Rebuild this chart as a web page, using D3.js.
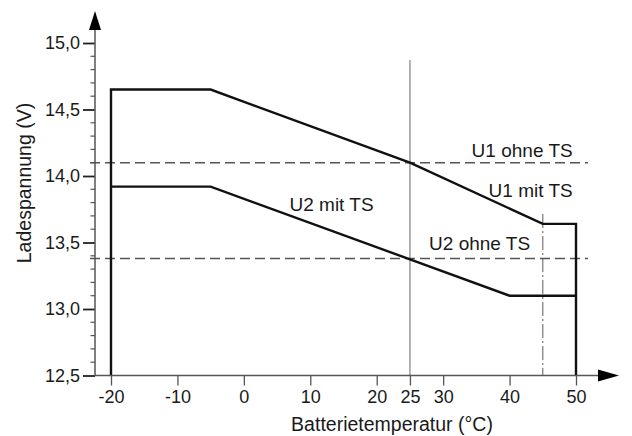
<!DOCTYPE html>
<html><head><meta charset="utf-8">
<script src="https://cdn.jsdelivr.net/npm/d3@7"></script>
<style>body{margin:0;background:#fff}svg{display:block}text{font-family:"Liberation Sans",Arial,sans-serif;fill:#1a1a1a}</style>
</head><body>
<svg id="c" width="632" height="436"></svg>
<script>
// ---- data ----
const xTicks = [-20, -10, 0, 10, 20, 25, 30, 40, 50];
const yMajorTicks = [12.5, 13.0, 13.5, 14.0, 14.5, 15.0];
const yMinorTicks = d3.range(126, 150).map(v => v / 10).filter(v => Math.round(v * 10) % 5 !== 0);
const u1Temp = [-20, -20, -5, 25, 45, 50, 50];
const u1Volt = [12.5, 14.65, 14.65, 14.1, 13.64, 13.64, 12.5];
const u2Temp = [-20, -5, 40, 50];
const u2Volt = [13.92, 13.92, 13.1, 13.1];
const u1Fixed = 14.1;   // U1 ohne TS
const u2Fixed = 13.38;  // U2 ohne TS
const refTemp = 25;
const limitTemp = 45;
const labels = [
  {text: "U1 ohne TS", t: 49.5, v: 14.14, anchor: "end"},
  {text: "U1 mit TS", t: 49.5, v: 13.845, anchor: "end"},
  {text: "U2 ohne TS", t: 43.1, v: 13.44, anchor: "end"},
  {text: "U2 mit TS", t: 13.2, v: 13.735, anchor: "middle"}
];
const xTitle = "Batterietemperatur (°C)";
const yTitle = "Ladespannung (V)";

// ---- scales ----
const svg = d3.select("#c");
const x = d3.scaleLinear().domain([-20, 50]).range([111, 576]);
const y = d3.scaleLinear().domain([12.5, 15]).range([375.5, 43]);
const axX = 95, axY = y(12.5);
const fmt = v => d3.format(".1f")(v).replace(".", ",");

// reference vertical at 25
svg.append("line").attr("x1", x(refTemp)).attr("x2", x(refTemp)).attr("y1", 60).attr("y2", axY)
  .attr("stroke", "#9a9a9a").attr("stroke-width", 1.5);
// dash-dot at 45
svg.append("line").attr("x1", x(limitTemp)).attr("x2", x(limitTemp)).attr("y1", 214).attr("y2", axY)
  .attr("stroke", "#777").attr("stroke-width", 1.2).attr("stroke-dasharray", "14,3,2,3");
// dashed fixed lines
[u1Fixed, u2Fixed].forEach(v => {
  svg.append("line").attr("x1", 90).attr("x2", 588).attr("y1", y(v)).attr("y2", y(v))
    .attr("stroke", "#555").attr("stroke-width", 1.4).attr("stroke-dasharray", "10,5");
});

// curves
const line = d3.line().x(d => x(d[0])).y(d => y(d[1]));
svg.append("path").datum(u1Temp.map((t, i) => [t, u1Volt[i]])).attr("d", line)
  .attr("fill", "none").attr("stroke", "#111").attr("stroke-width", 2.4);
svg.append("path").datum(u2Temp.map((t, i) => [t, u2Volt[i]])).attr("d", line)
  .attr("fill", "none").attr("stroke", "#111").attr("stroke-width", 2.4);

// y axis
const gy = svg.append("g").attr("transform", `translate(${axX},0)`);
gy.call(d3.axisLeft(y).tickValues(yMajorTicks).tickFormat(fmt).tickSize(12).tickPadding(3))
  .call(g => g.select(".domain").remove());
gy.selectAll(".tick line").attr("stroke", "#222").attr("stroke-width", 1.8);
gy.selectAll(".tick text").attr("font-size", 18).attr("fill", "#1a1a1a");
gy.selectAll(".minor").data(yMinorTicks).enter().append("line").attr("class", "minor")
  .attr("x1", -4.5).attr("x2", 0).attr("y1", d => y(d)).attr("y2", d => y(d))
  .attr("stroke", "#555").attr("stroke-width", 1.2);
svg.append("line").attr("x1", axX).attr("x2", axX).attr("y1", axY).attr("y2", 28)
  .attr("stroke", "#555").attr("stroke-width", 1.5);
svg.append("path").attr("d", `M${axX},11 L${axX - 6},30 L${axX + 6},30 Z`).attr("fill", "#000");

// x axis
const gx = svg.append("g").attr("transform", `translate(0,${axY})`);
gx.call(d3.axisBottom(x).tickValues(xTicks).tickFormat(d => d).tickSize(10).tickPadding(5))
  .call(g => g.select(".domain").remove());
gx.selectAll(".tick line").attr("stroke", "#555").attr("stroke-width", 1.3);
gx.selectAll(".tick text").attr("font-size", 18).attr("fill", "#1a1a1a");
svg.append("line").attr("x1", axX).attr("x2", 600).attr("y1", axY).attr("y2", axY)
  .attr("stroke", "#555").attr("stroke-width", 1.5);
svg.append("path").attr("d", `M619,${axY} L598,${axY - 6} L598,${axY + 6} Z`).attr("fill", "#000");

// annotations
svg.selectAll(".lbl").data(labels).enter().append("text").attr("class", "lbl")
  .attr("x", d => x(d.t)).attr("y", d => y(d.v)).attr("text-anchor", d => d.anchor)
  .attr("font-size", 19).text(d => d.text);

// titles
svg.append("text").attr("x", 392).attr("y", 431).attr("text-anchor", "middle")
  .attr("font-size", 19.5).text(xTitle);
svg.append("text").attr("transform", "translate(31,183) rotate(-90)").attr("text-anchor", "middle")
  .attr("font-size", 19.5).text(yTitle);
</script>
</body></html>
